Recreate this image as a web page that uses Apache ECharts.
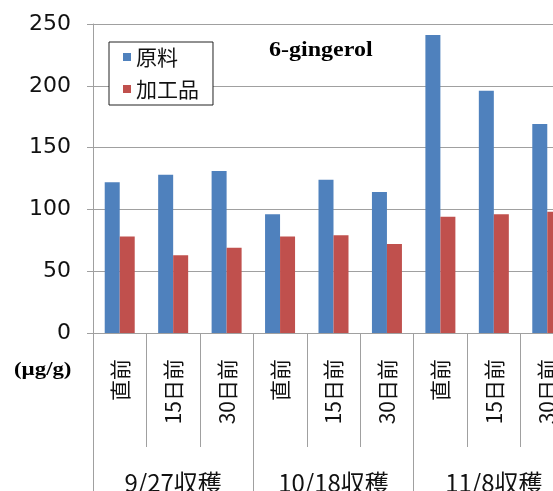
<!DOCTYPE html>
<html>
<head>
<meta charset="utf-8">
<title>6-gingerol</title>
<script src="https://cdn.jsdelivr.net/npm/echarts@6/dist/echarts.min.js"></script>
<style>
	html, body {
		margin: 0;
		padding: 0;
		background: #fff;
	}
	#gingerolChart {
		width: 553px;
		height: 491px;
	}
</style>
</head>
<body>
<div id="gingerolChart"></div>
<script>
	// 収穫日ごとの区分
	var categories = ['直前', '15日前', '30日前', '直前', '15日前', '30日前', '直前', '15日前', '30日前'];
	var harvestGroups = ['9/27収穫', '10/18収穫', '11/8収穫'];
	var seriesNames = ['原料', '加工品'];

	// 6-gingerol (µg/g)
	var rawValues = [122, 128, 131, 96, 124, 114, 241, 196, 169];
	var processedValues = [78, 63, 69, 78, 79, 72, 94, 96, 98];

	// y軸
	var yMin = 0;
	var yMax = 250;
	var yStep = 50;

	var gridColor = '#a0a0a0';
	var textColor = '#111';

	var chart = echarts.init(document.getElementById('gingerolChart'));
	var option = {
		animation: false,
		color: ['#4F81BD', '#C0504D'],
		grid: {
			left: 93,
			top: 24,
			bottom: 158,
			right: -21, // 最後のグループは右端で切れている
			containLabel: false,
			outerBoundsMode: 'none'
		},
		legend: {
			data: seriesNames,
			orient: 'vertical',
			left: 109,
			top: 42,
			icon: 'rect',
			itemWidth: 8,
			itemHeight: 8,
			itemGap: 10,
			padding: [4, 14, 5, 14],
			borderColor: '#222',
			borderWidth: 1,
			backgroundColor: '#fff',
			textStyle: {
				fontFamily: 'Noto Sans CJK JP',
				fontSize: 21,
				color: textColor,
				lineHeight: 22
			}
		},
		xAxis: [{
			type: 'category',
			data: categories,
			position: 'bottom',
			axisLine: {
				onZero: false,
				lineStyle: { color: gridColor }
			},
			axisTick: {
				show: true,
				interval: 0,
				length: 114,
				lineStyle: { color: gridColor }
			},
			axisLabel: {
				interval: 0,
				rotate: 90,
				margin: 26,
				fontFamily: 'Noto Sans CJK JP',
				fontSize: 21,
				color: textColor
			}
		}, {
			type: 'category',
			data: harvestGroups,
			position: 'bottom',
			axisLine: { show: false, onZero: false },
			axisTick: {
				show: true,
				interval: 0,
				length: 158,
				lineStyle: { color: gridColor }
			},
			axisLabel: {
				interval: 0,
				margin: 138,
				verticalAlign: 'top',
				fontFamily: 'Noto Sans CJK JP',
				fontSize: 24,
				color: textColor
			}
		}],
		yAxis: {
			type: 'value',
			min: yMin,
			max: yMax,
			interval: yStep,
			axisLine: {
				show: true,
				lineStyle: { color: gridColor }
			},
			axisTick: {
				show: true,
				length: 6,
				lineStyle: { color: gridColor }
			},
			axisLabel: {
				margin: 22,
				fontFamily: 'DejaVu Sans',
				fontSize: 22,
				color: textColor
			},
			splitLine: {
				lineStyle: { color: gridColor, width: 1 }
			}
		},
		series: [{
			name: seriesNames[0],
			type: 'bar',
			xAxisIndex: 0,
			barWidth: 15,
			barGap: '0%',
			data: rawValues
		}, {
			name: seriesNames[1],
			type: 'bar',
			xAxisIndex: 0,
			barWidth: 15,
			barGap: '0%',
			data: processedValues
		}],
		graphic: [{
			type: 'text',
			x: 269,
			y: 51,
			scaleX: 1.2,
			style: {
				text: '6-gingerol',
				fontFamily: 'Liberation Serif',
				fontWeight: 'bold',
				fontSize: 20,
				fill: '#000',
				textAlign: 'left',
				textVerticalAlign: 'middle'
			}
		}, {
			type: 'text',
			x: 14,
			y: 370,
			scaleX: 1.2,
			style: {
				text: '(µg/g)',
				fontFamily: 'Liberation Serif',
				fontWeight: 'bold',
				fontSize: 19,
				fill: '#000',
				textAlign: 'left',
				textVerticalAlign: 'middle'
			}
		}]
	};
	chart.setOption(option);
</script>
</body>
</html>
